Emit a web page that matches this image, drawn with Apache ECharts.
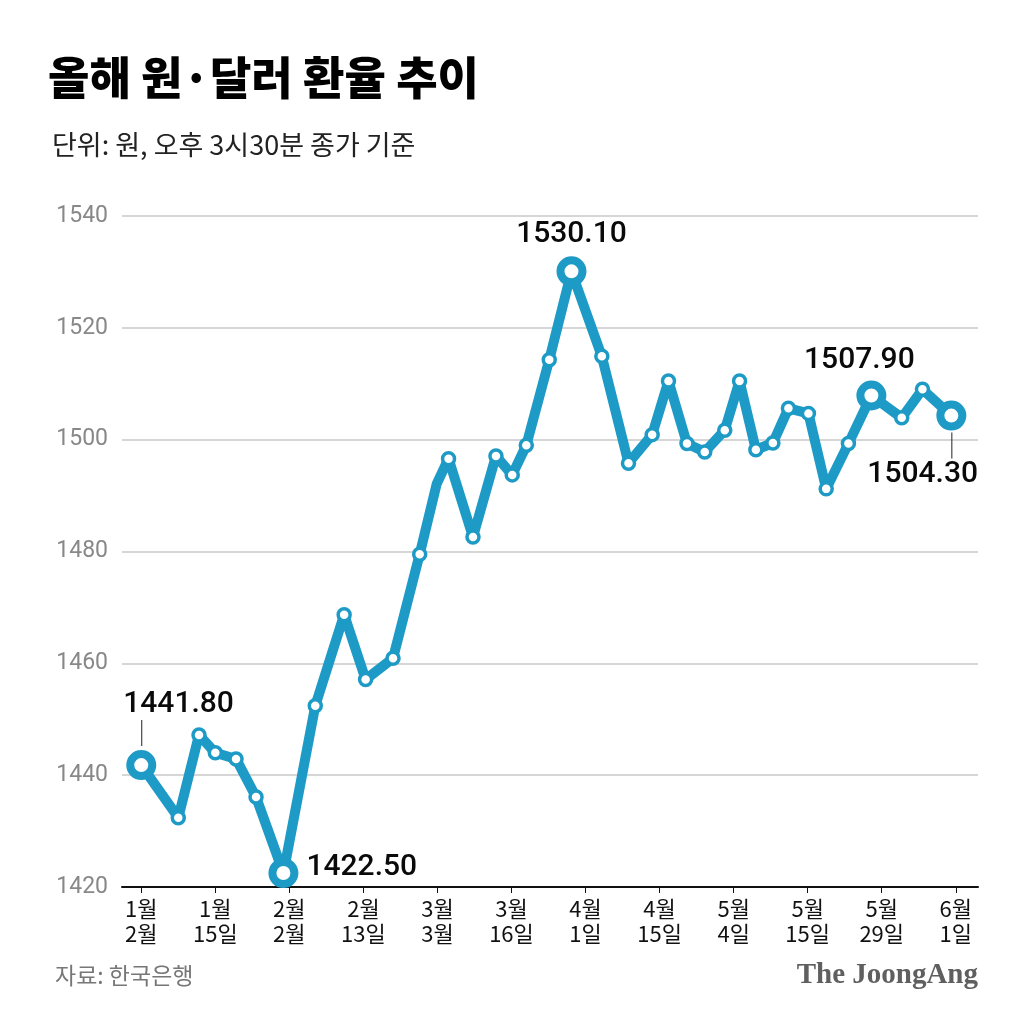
<!DOCTYPE html>
<html>
<head>
<meta charset="utf-8">
<script src="https://cdn.jsdelivr.net/npm/echarts@6/dist/echarts.min.js"></script>
<style>
  html, body { margin: 0; padding: 0; background: #ffffff; }
  #chart { width: 1030px; height: 1030px; }
</style>
</head>
<body>
<div id="chart"></div>
<script>
// x-axis tick labels (as printed on the graphic)
const xLabels = ['1월\n2월', '1월\n15일', '2월\n2월', '2월\n13일', '3월\n3월', '3월\n16일',
  '4월\n1일', '4월\n15일', '5월\n4일', '5월\n15일', '5월\n29일', '6월\n1일'];

// position of each observation along the label scale (0 = first label, 11 = last)
const xPos = [0, 0.50, 0.78, 1.00, 1.28, 1.55, 1.92, 2.35, 2.74, 3.03, 3.40, 3.76, 3.99,
  4.15, 4.48, 4.79, 5.01, 5.20, 5.51, 5.81, 6.22, 6.58, 6.90, 7.12, 7.37, 7.61, 7.88,
  8.08, 8.30, 8.53, 8.74, 9.01, 9.25, 9.55, 9.86, 10.27, 10.55, 10.94];

// won/dollar closing rate
const rates = [1441.8, 1432.4, 1447.2, 1444.0, 1442.9, 1436.1, 1422.5, 1452.4, 1468.7,
  1457.1, 1460.9, 1479.5, 1492.1, 1496.6, 1482.6, 1497.1, 1493.7, 1499.0, 1514.3, 1530.1,
  1514.9, 1495.8, 1500.9, 1510.5, 1499.3, 1497.8, 1501.7, 1510.5, 1498.2, 1499.4, 1505.6,
  1504.7, 1491.2, 1499.3, 1507.9, 1503.9, 1509.0, 1504.3];

// points that carry a printed value
const labeled = [0, 6, 19, 34, 37];
// point drawn without a marker (bend in the line)
const noMarker = [12];

const yTicks = [1420, 1440, 1460, 1480, 1500, 1520, 1540];

const BLUE = '#1d9bc6';
const NUM_FONT = 'Roboto';
const KR_FONT = 'Noto Sans CJK KR';

const valueStyle = {
  fontFamily: NUM_FONT, fontSize: 30, fontWeight: 500, color: '#0a0a0a',
  lineHeight: 32, align: 'left'
};
const barStyle = { width: 1, height: 26, lineHeight: 26, backgroundColor: '#222222', align: 'left' };

// label placement for the highlighted points
const labelPlace = {
  0: { position: 'top', align: 'left', offset: [-18, 2], lead: 'above', gap: 18 },
  6: { position: 'right', align: 'left', offset: [2, -6] },
  19: { position: 'top', align: 'center', offset: [0, 0] },
  34: { position: 'top', align: 'center', offset: [-12, 2] },
  37: { position: 'bottom', align: 'left', offset: [-84, -4], lead: 'below', gap: 84 }
};

const seriesData = xPos.map((x, i) => {
  const item = { value: [x, rates[i]] };
  if (noMarker.indexOf(i) >= 0) {
    item.symbolSize = 0;
    item.itemStyle = { borderWidth: 0 };
  }
  if (labeled.indexOf(i) >= 0) {
    const p = labelPlace[i];
    item.symbolSize = 22;
    item.itemStyle = { color: '#ffffff', borderColor: BLUE, borderWidth: 8 };
    item.label = {
      show: true,
      position: p.position,
      align: p.align,
      offset: p.offset,
      distance: 6,
      formatter: (d) => {
        const txt = '{v|' + d.value[1].toFixed(2) + '}';
        if (p.lead === 'above') return txt + '\n{sp| }{bar| }';
        if (p.lead === 'below') return '{sp| }{bar| }\n' + txt;
        return txt;
      },
      rich: {
        v: valueStyle,
        sp: { width: p.gap || 0, height: 26, lineHeight: 26, align: 'left' },
        bar: barStyle
      }
    };
  }
  return item;
});

const chart = echarts.init(document.getElementById('chart'), null, { renderer: 'canvas' });
chart.setOption({
  backgroundColor: '#ffffff',
  animation: false,
  title: [
    {
      text: '올해 원·달러 환율 추이',
      left: 48, top: 55, padding: 0,
      textStyle: { fontFamily: KR_FONT, fontSize: 45, fontWeight: 900, color: '#000000' }
    },
    {
      text: '단위: 원, 오후 3시30분 종가 기준',
      left: 52, top: 131, padding: 0,
      textStyle: { fontFamily: KR_FONT, fontSize: 27, fontWeight: 'normal', color: '#222222' }
    },
    {
      text: '자료: 한국은행',
      left: 55, top: 964, padding: 0,
      textStyle: { fontFamily: KR_FONT, fontSize: 23, fontWeight: 'normal', color: '#777777' }
    },
    {
      text: 'The JoongAng',
      right: 52, top: 961, padding: 0,
      textStyle: { fontFamily: 'Liberation Serif', fontSize: 29, fontWeight: 'bold', color: '#5f5f5f' }
    }
  ],
  grid: { left: 122, right: 52, top: 216, bottom: 143, containLabel: false },
  xAxis: {
    type: 'value',
    min: -0.26,
    max: 11.3,
    axisLine: { show: true, lineStyle: { color: '#111111', width: 2 } },
    axisTick: {
      show: true, length: 6, customValues: xLabels.map((_, i) => i),
      lineStyle: { color: '#111111', width: 1 }
    },
    axisLabel: {
      show: true, customValues: xLabels.map((_, i) => i),
      formatter: (v) => xLabels[Math.round(v)],
      margin: 9,
      fontFamily: KR_FONT, fontSize: 22, lineHeight: 25, color: '#111111'
    },
    splitLine: { show: false }
  },
  yAxis: {
    type: 'value',
    min: yTicks[0],
    max: yTicks[yTicks.length - 1],
    interval: 20,
    axisLine: { show: false },
    axisTick: { show: false },
    axisLabel: {
      margin: 14, fontFamily: NUM_FONT, fontSize: 23, color: '#888888',
      formatter: (v) => String(v)
    },
    splitLine: { show: true, lineStyle: { color: '#c8c8c8', width: 1.5 } }
  },
  series: [
    {
      type: 'line',
      data: seriesData,
      showSymbol: true,
      symbol: 'circle',
      symbolSize: 12,
      lineStyle: { color: BLUE, width: 10, join: 'round' },
      itemStyle: { color: '#ffffff', borderColor: BLUE, borderWidth: 3.5 },
      z: 3
    }
  ]
});
</script>
</body>
</html>
